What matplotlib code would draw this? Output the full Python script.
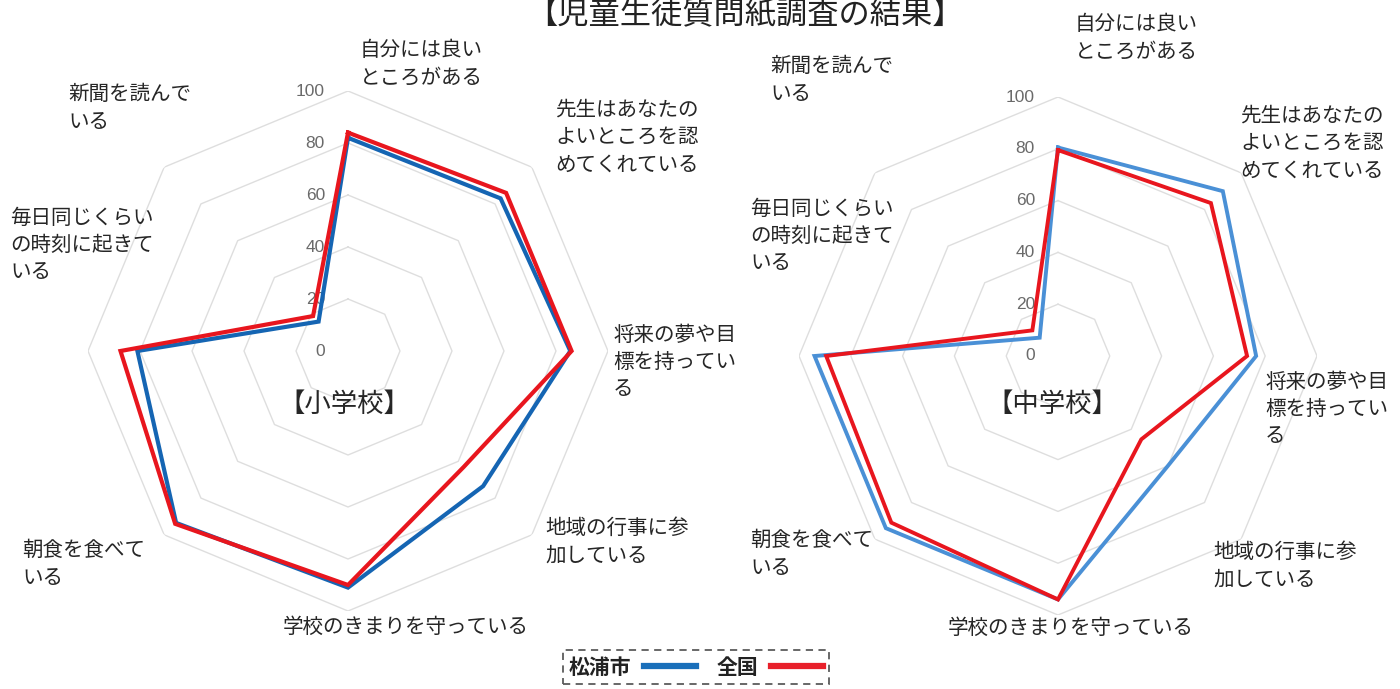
import numpy as np
import matplotlib
matplotlib.use("Agg")
import matplotlib.pyplot as plt

plt.rcParams['font.family'] = ['Noto Sans CJK JP', 'DejaVu Sans']

# ---- data ----
categories = ["自分には良い\nところがある",
              "先生はあなたの\nよいところを認\nめてくれている",
              "将来の夢や目\n標を持ってい\nる",
              "地域の行事に参\n加している",
              "学校のきまりを守っている",
              "朝食を食べて\nいる",
              "毎日同じくらい\nの時刻に起きて\nいる",
              "新聞を読んで\nいる"]
series_names = ["松浦市", "全国"]
matsuura_elem = [82, 83, 85.5, 73.5, 91, 93.5, 81, 16]
national_elem = [84, 86, 86, 63, 90, 94, 87.5, 19]
matsuura_jh = [80.5, 90, 76.5, 60, 94, 94, 94, 10]
national_jh = [79.5, 83.5, 73, 45.5, 94, 91, 89.5, 14]
ring_values = [20, 40, 60, 80, 100]
tick_labels = ["0", "20", "40", "60", "80", "100"]
title = "【児童生徒質問紙調査の結果】"
panel_titles = ["【小学校】", "【中学校】"]

W, H = 1400, 689
fig = plt.figure(figsize=(W / 100, H / 100), dpi=100)

N = len(categories)
angles = np.linspace(0, 2 * np.pi, N, endpoint=False)
ang_c = np.concatenate([angles, angles[:1]])

def close(v):
    v = list(v)
    return v + v[:1]

def make_radar(cx, cy, R):
    ax = fig.add_axes([(cx - R) / W, (H - cy - R) / H, 2 * R / W, 2 * R / H],
                      projection='polar')
    ax.set_theta_zero_location('N')
    ax.set_theta_direction(-1)
    ax.set_ylim(0, 100)
    ax.grid(False)
    ax.set_xticks([])
    ax.set_yticks([])
    ax.spines['polar'].set_visible(False)
    ax.patch.set_alpha(0)
    for rv in ring_values:
        ax.plot(ang_c, [rv] * (N + 1), color='#dedede', lw=1.0, zorder=1)
    for i, lab in enumerate(tick_labels):
        ax.annotate(lab, xy=(0, i * 20), xytext=(-23, 0), textcoords='offset pixels',
                    ha='right', va='center', fontsize=12.5, color='#6a6a6a',
                    family=['Liberation Sans', 'DejaVu Sans'])
    return ax

axL = make_radar(348, 351, 260)
axR = make_radar(1058, 356, 259)

blue_dark = '#1565b3'
blue_light = '#4a90d6'
red = '#e8161e'

axL.plot(ang_c, close(matsuura_elem), color=blue_dark, lw=3.0, zorder=3,
         solid_joinstyle='miter')
axL.plot(ang_c, close(national_elem), color=red, lw=3.0, zorder=4,
         solid_joinstyle='miter')
axR.plot(ang_c, close(matsuura_jh), color=blue_light, lw=2.8, zorder=3,
         solid_joinstyle='miter')
axR.plot(ang_c, close(national_jh), color=red, lw=2.8, zorder=4,
         solid_joinstyle='miter')

# overlay for texts in pixel coordinates
ov = fig.add_axes([0, 0, 1, 1])
ov.set_xlim(0, W)
ov.set_ylim(H, 0)
ov.axis('off')
ov.patch.set_alpha(0)

lab_fs = 14.8
left_pos = [(360, 64), (555, 137), (613, 362), (545, 542), (283, 627),
            (22, 564), (10, 245), (68, 108)]
right_pos = [(1075, 38), (1240, 143), (1265, 409), (1213, 566), (948, 628),
             (750, 554), (750, 236), (770, 80)]
for pos_list in (left_pos, right_pos):
    for lab, (x, y) in zip(categories, pos_list):
        ov.text(x, y, lab, ha='left', va='center', fontsize=lab_fs,
                color='#262626', linespacing=1.32)

ov.text(745, 15, title, ha='center', va='center', fontsize=22.5, color='#222222')
ov.text(344, 404, panel_titles[0], ha='center', va='center', fontsize=19, color='#262626')
ov.text(1052, 404, panel_titles[1], ha='center', va='center', fontsize=19, color='#262626')

leg_b = plt.Line2D([], [], color='#1a6fba', lw=4.5)
leg_r = plt.Line2D([], [], color='#e8202a', lw=4.5)
leg = fig.legend([leg_b, leg_r], series_names, loc='center',
                 bbox_to_anchor=(696 / W, (H - 667) / H), ncol=2, markerfirst=False,
                 prop={'weight': 'bold', 'size': 15, 'family': ['Noto Sans CJK JP']},
                 handlelength=2.5, columnspacing=1.0, handletextpad=0.6,
                 fancybox=False, frameon=True, borderpad=0.3)
fr = leg.get_frame()
fr.set_linestyle((0, (4, 3)))
fr.set_edgecolor('#333333')
fr.set_linewidth(1.3)
for t in leg.get_texts():
    t.set_color('#222222')

fig.savefig('out.png', dpi=100, facecolor='white')
